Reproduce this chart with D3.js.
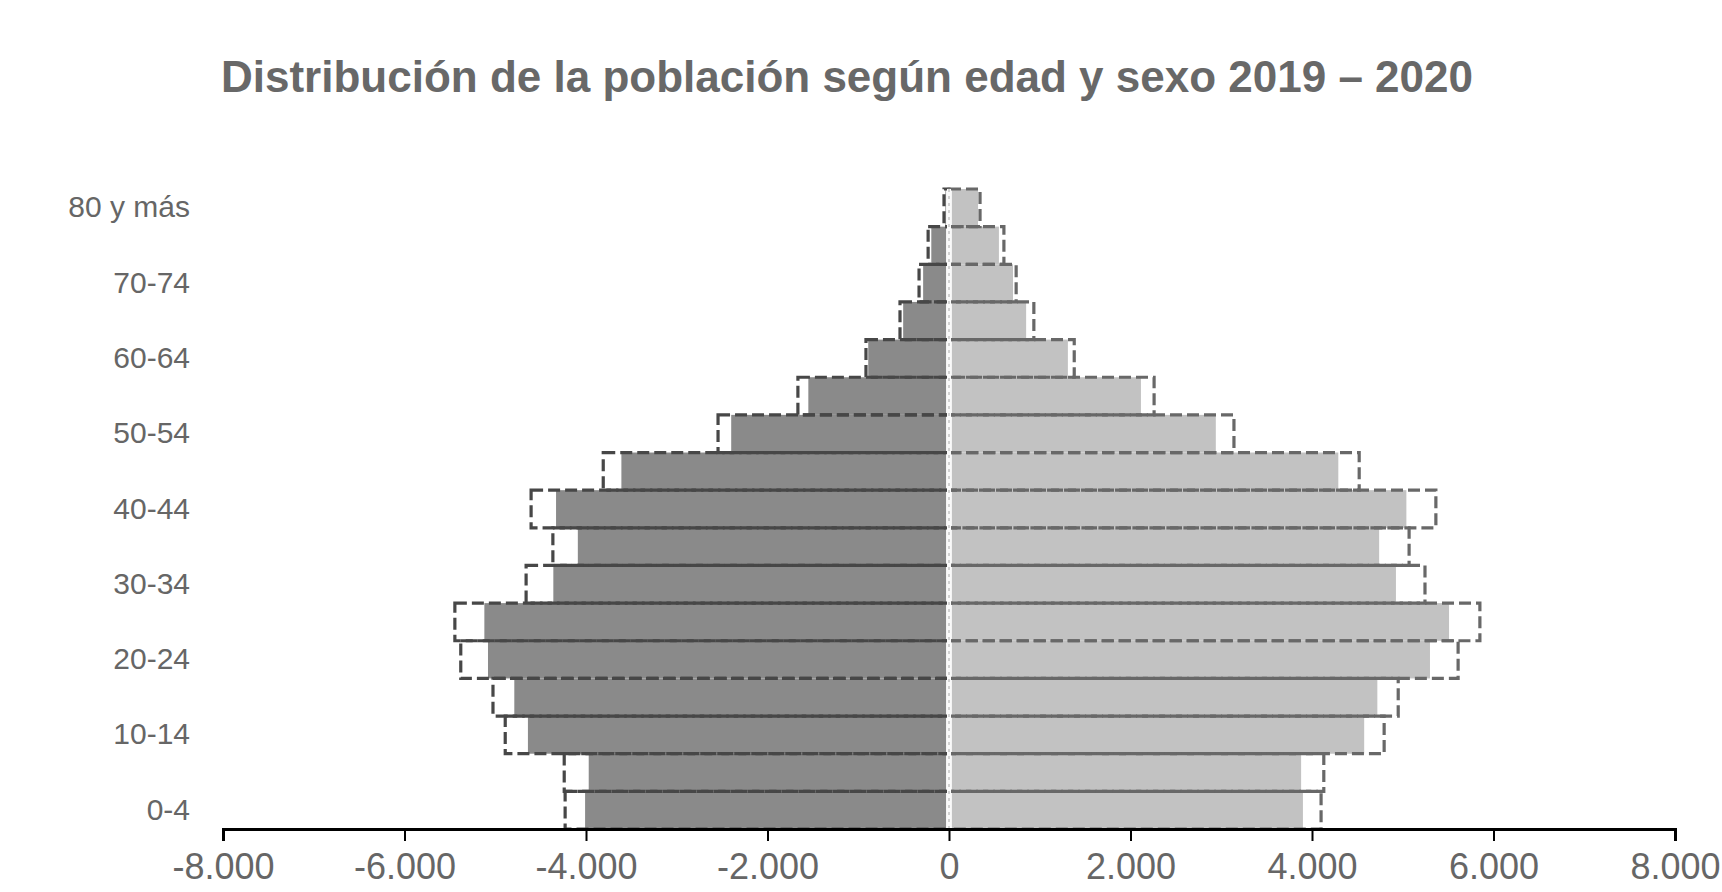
<!DOCTYPE html>
<html>
<head>
<meta charset="utf-8">
<script src="https://cdn.jsdelivr.net/npm/d3@7"></script>
<style>
  html, body { margin: 0; padding: 0; background: #fff; }
  svg { display: block; }
</style>
</head>
<body>
<script>
// ---- data ----
const ages = ["0-4","5-9","10-14","15-19","20-24","25-29","30-34","35-39","40-44","45-49","50-54","55-59","60-64","65-69","70-74","75-79","80 y más"];
const shownAgeLabels = ["0-4","10-14","20-24","30-34","40-44","50-54","60-64","70-74","80 y más"];
// filled bars
const menFilled   = [-4010,-3970,-4640,-4790,-5080,-5120,-4360,-4090,-4330,-3610,-2400,-1550,-890,-505,-285,-195,-40];
const womenFilled = [3900,3880,4575,4720,5300,5510,4925,4740,5040,4290,2940,2115,1310,850,705,550,320];
// dashed outline bars
const menOutline   = [-4230,-4240,-4890,-5025,-5380,-5445,-4660,-4365,-4605,-3810,-2545,-1665,-915,-540,-330,-230,-55];
const womenOutline = [4100,4130,4795,4950,5610,5850,5245,5070,5365,4520,3140,2260,1380,935,740,605,342];
const xTicks = [-8000,-6000,-4000,-2000,0,2000,4000,6000,8000];
const title = "Distribución de la población según edad y sexo 2019 – 2020";

// ---- layout ----
const W = 1722, H = 892;
const svg = d3.select("body").append("svg").attr("width", W).attr("height", H);

const x = d3.scaleLinear().domain([-8000, 8000]).range([223, 1675]);
const y = d3.scaleBand().domain(ages.slice().reverse()).range([189, 829]).padding(0);

const fmt = v => v === 0 ? "0" : d3.format(",")(v).replace(/,/g, ".").replace("−", "-");

svg.append("text")
  .attr("x", 847).attr("y", 92)
  .attr("text-anchor", "middle")
  .attr("font-family", "Liberation Sans, Arial, sans-serif")
  .attr("font-weight", "bold")
  .attr("font-size", 44)
  .attr("fill", "#686868")
  .text(title);

const rows = ages.map((a, i) => ({age: a, mf: menFilled[i], wf: womenFilled[i], mo: menOutline[i], wo: womenOutline[i]}));

// filled bars
svg.append("g").selectAll("rect").data(rows).join("rect")
  .attr("x", d => x(d.mf)).attr("y", d => y(d.age))
  .attr("width", d => x(0) - x(d.mf)).attr("height", y.bandwidth())
  .attr("fill", "#8a8a8a");
svg.append("g").selectAll("rect").data(rows).join("rect")
  .attr("x", x(0)).attr("y", d => y(d.age))
  .attr("width", d => x(d.wf) - x(0)).attr("height", y.bandwidth())
  .attr("fill", "#c2c2c2");

// center separator
svg.append("line")
  .attr("x1", x(0)).attr("x2", x(0))
  .attr("y1", y.range()[0]).attr("y2", y.range()[1])
  .attr("stroke", "#f4f4f4").attr("stroke-width", 6);

// dashed outline bars
svg.append("g").selectAll("rect").data(rows).join("rect")
  .attr("x", d => x(d.mo)).attr("y", d => y(d.age))
  .attr("width", d => x(0) - x(d.mo)).attr("height", y.bandwidth())
  .attr("fill", "none").attr("stroke", "#474747").attr("stroke-width", 3.2)
  .attr("stroke-dasharray", "12,5");
svg.append("g").selectAll("rect").data(rows).join("rect")
  .attr("x", x(0)).attr("y", d => y(d.age))
  .attr("width", d => x(d.wo) - x(0)).attr("height", y.bandwidth())
  .attr("fill", "none").attr("stroke", "#686868").attr("stroke-width", 3.2)
  .attr("stroke-dasharray", "12,5");

svg.append("line")
  .attr("x1", x(0)).attr("x2", x(0))
  .attr("y1", y.range()[0]).attr("y2", y.range()[1])
  .attr("stroke", "#fafafa").attr("stroke-width", 4);
svg.append("line")
  .attr("x1", x(0)).attr("x2", x(0))
  .attr("y1", y.range()[0]).attr("y2", y.range()[1])
  .attr("stroke", "#aaa").attr("stroke-width", 1).attr("stroke-dasharray", "3,4");

// x axis
const xAxis = d3.axisBottom(x).tickValues(xTicks).tickFormat(fmt).tickSize(12).tickPadding(12);
const gx = svg.append("g").attr("transform", `translate(0,${y.range()[1]})`).call(xAxis);
gx.select(".domain").attr("stroke", "#000").attr("stroke-width", 3);
gx.selectAll(".tick line").attr("stroke", "#000").attr("stroke-width", 2);
gx.selectAll(".tick text")
  .attr("font-family", "Liberation Sans, Arial, sans-serif")
  .attr("font-size", 36).attr("fill", "#666");

// y axis labels
const yAxis = d3.axisLeft(y).tickValues(shownAgeLabels).tickSize(0).tickPadding(0);
const gy = svg.append("g").attr("transform", "translate(190,0)").call(yAxis);
gy.select(".domain").remove();
gy.selectAll(".tick text")
  .attr("font-family", "Liberation Sans, Arial, sans-serif")
  .attr("font-size", 30).attr("fill", "#666");
</script>
</body>
</html>
